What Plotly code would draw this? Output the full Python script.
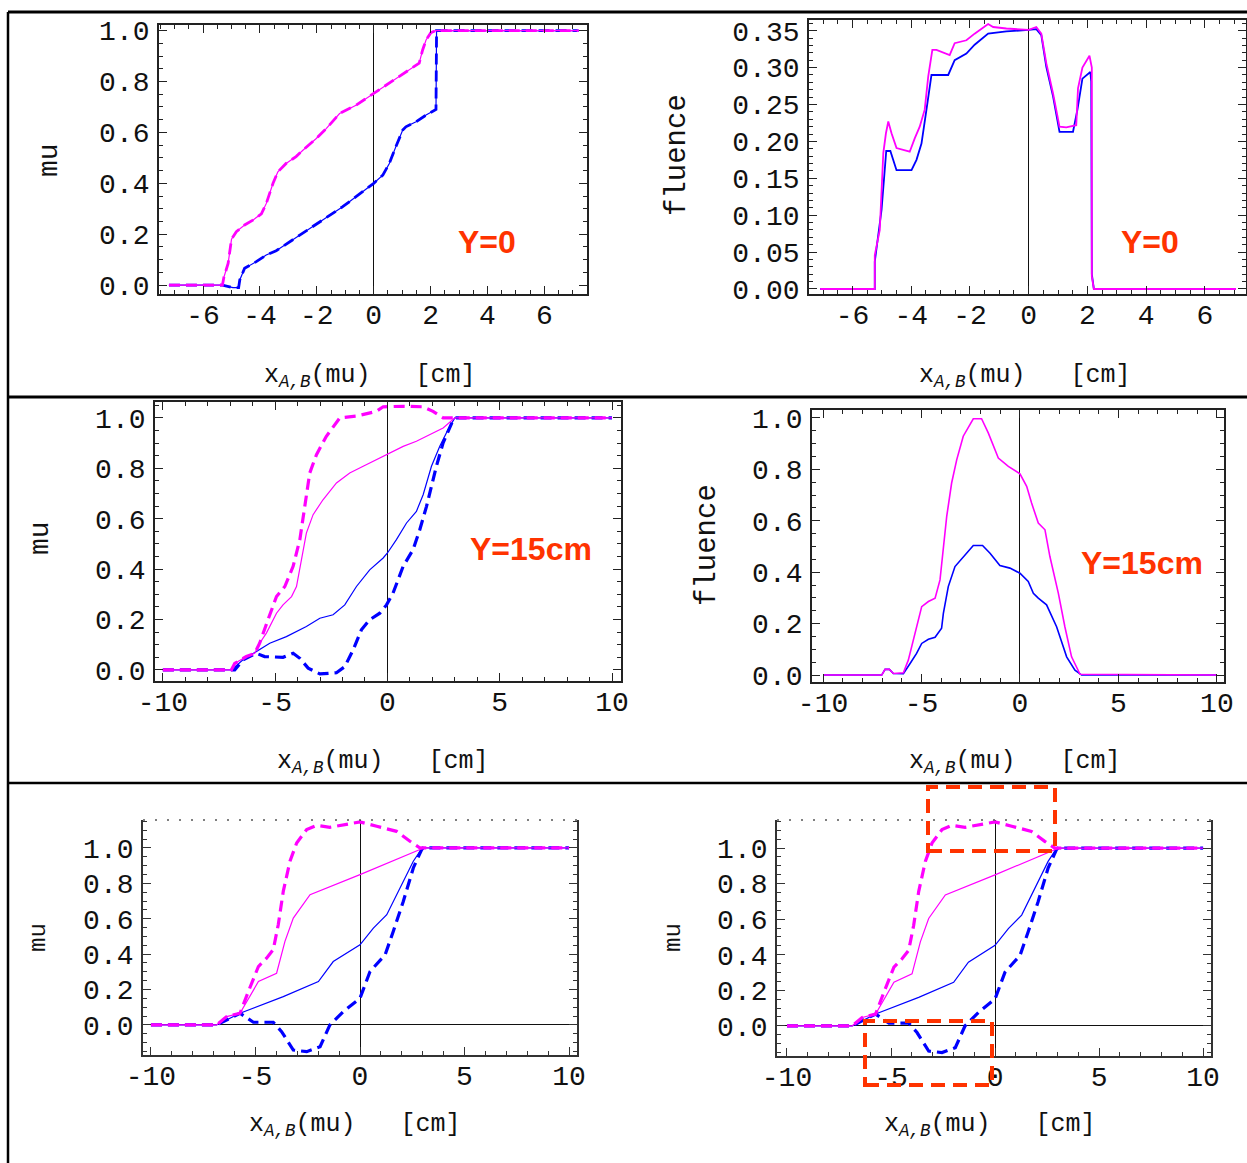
import plotly.graph_objects as go

W, H = 1247, 1163

# ---------------- data ----------------
# Row 1: Y=0, mu
mag_x0 = [-7.2, -5.32, -5.27, -5.12, -5.0, -4.83, -4.54, -4.25, -3.95, -3.78, -3.54, -3.37, -3.08, -2.73,
          -2.49, -2.02, -1.67, -1.2, -0.62, 0, 0.55, 1.13, 1.6, 1.72, 1.84, 2.01, 2.19, 7.2]
mag_y0 = [0, 0, 0.03, 0.085, 0.18, 0.21, 0.236, 0.255, 0.28, 0.32, 0.40, 0.445, 0.478, 0.505,
          0.53, 0.576, 0.615, 0.674, 0.707, 0.753, 0.793, 0.839, 0.872, 0.924, 0.963, 0.992, 1.0, 1.0]
blue_x0 = [-7.2, -5.32, -4.95, -4.75, -4.71, -4.54, -4.13, -3.78, -3.43, -2.96, -2.37, -1.79, -1.09,
           -0.39, 0, 0.32, 0.55, 0.78, 1.02, 1.13, 1.49, 1.84, 2.19, 2.21, 7.2]
blue_y0 = [0, 0, -0.01, -0.01, 0.02, 0.066, 0.092, 0.118, 0.135, 0.17, 0.216, 0.256, 0.308,
           0.367, 0.40, 0.432, 0.478, 0.544, 0.609, 0.622, 0.642, 0.668, 0.69, 1.0, 1.0]

# Row 1: Y=0, fluence
magf_x0 = [-7.1, -5.24, -5.24, -5.07, -4.95, -4.86, -4.78, -4.67, -4.50, -4.05, -3.88, -3.71, -3.54,
           -3.42, -3.28, -3.14, -2.69, -2.52, -2.12, -1.84, -1.38, -1.21, -0.76, 0, 0.26, 0.43, 0.60,
           0.83, 1.05, 1.28, 1.62, 1.68, 1.83, 2.07, 2.15, 2.15, 2.22, 7.06]
magf_y0 = [0, 0, 0.046, 0.080, 0.184, 0.211, 0.227, 0.211, 0.191, 0.186, 0.204, 0.22, 0.243,
           0.288, 0.324, 0.324, 0.317, 0.333, 0.337, 0.346, 0.359, 0.355, 0.353, 0.351, 0.355, 0.346, 0.306,
           0.265, 0.22, 0.219, 0.222, 0.272, 0.30, 0.316, 0.30, 0.017, 0, 0]
bluef_x0 = [-7.1, -5.24, -5.24, -5.01, -4.85, -4.71, -4.50, -3.99, -3.82, -3.65, -3.48, -3.31, -2.74,
            -2.52, -2.12, -1.84, -1.38, -0.76, 0, 0.26, 0.43, 0.60, 0.83, 1.05, 1.51, 1.66, 1.83,
            2.10, 2.13, 2.15, 2.22, 7.06]
bluef_y0 = [0, 0, 0.037, 0.107, 0.187, 0.187, 0.161, 0.161, 0.175, 0.197, 0.243, 0.29, 0.29,
            0.31, 0.319, 0.331, 0.346, 0.349, 0.351, 0.352, 0.344, 0.301, 0.261, 0.213, 0.213, 0.243, 0.285,
            0.294, 0.281, 0.02, 0, 0]

# Row 2: Y=15cm, mu
magd_x15 = [-10, -6.95, -6.80, -6.28, -5.91, -5.69, -5.32, -4.94, -4.57, -4.20, -3.90, -3.68, -3.46,
            -3.16, -2.72, -2.12, -1.38, -0.49, -0.19, 0.70, 1.59, 2.03, 2.48, 2.93, 10]
magd_y15 = [0, 0, 0.026, 0.053, 0.066, 0.106, 0.199, 0.291, 0.331, 0.411, 0.517, 0.649, 0.781,
            0.854, 0.927, 1.0, 1.007, 1.026, 1.044, 1.046, 1.044, 1.026, 1.0, 1.0, 1.0]
mags_x15 = [-10, -6.95, -6.80, -6.28, -5.91, -5.69, -5.39, -4.94, -4.65, -4.27, -4.05, -3.83, -3.61,
            -3.31, -2.87, -2.27, -1.68, -1.08, -0.49, 0, 0.70, 1.29, 2.03, 2.48, 3.0, 10]
mags_y15 = [0, 0, 0.026, 0.053, 0.066, 0.106, 0.146, 0.225, 0.258, 0.291, 0.331, 0.437, 0.543,
            0.616, 0.675, 0.742, 0.781, 0.808, 0.834, 0.854, 0.887, 0.907, 0.940, 0.960, 1.0, 1.0]
blues_x15 = [-10, -6.95, -6.43, -5.84, -5.24, -4.50, -3.61, -3.01, -2.42, -1.90, -1.38, -0.79, -0.19,
             0, 0.40, 0.85, 1.29, 1.59, 1.96, 2.33, 2.70, 3.0, 10]
blues_y15 = [0, 0, 0.04, 0.073, 0.106, 0.132, 0.172, 0.205, 0.219, 0.258, 0.331, 0.397, 0.444,
             0.464, 0.517, 0.583, 0.629, 0.695, 0.808, 0.887, 0.954, 1.0, 1.0]
blued_x15 = [-10, -6.95, -6.80, -6.43, -5.84, -5.47, -4.65, -4.20, -3.90, -3.53, -3.01, -2.27, -1.90,
             -1.53, -1.16, -0.79, -0.34, -0.04, 0.25, 0.70, 1.14, 1.44, 1.74, 2.18, 2.48, 2.93, 3.07, 10]
blued_y15 = [0, 0, 0, 0.04, 0.066, 0.053, 0.05, 0.066, 0.046, 0.007, -0.016, -0.011, 0.013,
             0.079, 0.159, 0.199, 0.225, 0.258, 0.305, 0.411, 0.477, 0.556, 0.649, 0.808, 0.901, 0.993, 1.0, 1.0]

# Row 2: Y=15cm, fluence
magf_x15 = [-10, -7.02, -6.85, -6.63, -6.43, -5.92, -5.67, -5.33, -4.99, -4.65, -4.31, -4.06, -3.89,
            -3.72, -3.47, -3.21, -2.88, -2.62, -2.37, -1.95, -1.61, -1.10, -0.59, 0, 0.34, 0.59, 0.93,
            1.27, 1.52, 1.95, 2.28, 2.62, 3.05, 10]
magf_y15 = [0, 0, 0.022, 0.022, 0.006, 0.009, 0.058, 0.162, 0.266, 0.286, 0.299, 0.37, 0.487,
            0.617, 0.747, 0.838, 0.929, 0.961, 0.997, 0.997, 0.942, 0.844, 0.812, 0.783, 0.734, 0.669, 0.591,
            0.565, 0.461, 0.318, 0.188, 0.071, 0.003, 0]
bluef_x15 = [-10, -7.02, -6.85, -6.63, -6.43, -5.92, -5.58, -5.25, -4.99, -4.65, -4.31, -3.98, -3.89,
             -3.64, -3.30, -2.88, -2.37, -1.90, -1.52, -1.02, -0.51, 0, 0.42, 0.68, 0.93, 1.35, 1.86,
             2.37, 2.79, 3.13, 10]
bluef_y15 = [0, 0, 0.022, 0.022, 0.006, 0.005, 0.045, 0.084, 0.123, 0.139, 0.147, 0.182, 0.24,
             0.344, 0.422, 0.461, 0.504, 0.504, 0.474, 0.426, 0.416, 0.396, 0.364, 0.318, 0.299, 0.273, 0.188,
             0.071, 0.019, 0, 0]

# Row 3: mu (same curves in both panels)
magd_b_x = [-10, -6.86, -6.38, -5.74, -5.34, -4.86, -4.47, -4.15, -3.91, -3.67, -3.35, -3.03, -2.55,
            -2.07, -1.44, -0.80, 0, 0.80, 1.75, 2.39, 2.87, 10]
magd_b_y = [0, 0, 0.047, 0.066, 0.189, 0.33, 0.377, 0.425, 0.566, 0.755, 0.925, 1.028, 1.104,
            1.128, 1.117, 1.132, 1.147, 1.123, 1.094, 1.038, 1.0, 1.0]
mags_b_x = [-10, -6.86, -6.38, -5.74, -4.86, -3.99, -3.59, -3.19, -2.39, 0, 2.87, 3.03, 10]
mags_b_y = [0, 0, 0.047, 0.066, 0.245, 0.292, 0.472, 0.604, 0.736, 0.849, 0.991, 1.0, 1.0]
blues_b_x = [-10, -6.86, -5.74, -3.67, -1.99, -1.28, 0, 0.64, 1.28, 1.91, 2.55, 2.95, 3.03, 10]
blues_b_y = [0, 0, 0.066, 0.16, 0.245, 0.358, 0.453, 0.547, 0.623, 0.774, 0.925, 0.996, 1.0, 1.0]
blued_b_x = [-10, -6.86, -5.74, -5.10, -4.15, -3.75, -3.19, -2.55, -1.91, -1.44, -0.80, 0, 0.48,
             1.20, 1.59, 2.07, 2.55, 2.95, 3.03, 10]
blued_b_y = [0, 0, 0.066, 0.015, 0.015, -0.038, -0.142, -0.151, -0.123, 0, 0.075, 0.151, 0.302,
             0.396, 0.528, 0.698, 0.887, 0.991, 1.0, 1.0]

# tick labels
x_ticks_top = [-6, -4, -2, 0, 2, 4, 6]
x_ticks_10 = [-10, -5, 0, 5, 10]
y_ticks_mu = [0.0, 0.2, 0.4, 0.6, 0.8, 1.0]
y_ticks_flu0 = [0.0, 0.05, 0.10, 0.15, 0.20, 0.25, 0.30, 0.35]

MAG = "#FF00FF"
BLU = "#0000FF"
RED = "#FF3300"
MONO = "Liberation Mono"


def px(x):
    return x / W


def py(y):
    return 1 - y / H


fig = go.Figure()


def add(i, x, y, color, dashed, width):
    sfx = "" if i == 1 else str(i)
    fig.add_trace(go.Scatter(
        x=x, y=y, mode="lines", xaxis="x" + sfx, yaxis="y" + sfx, showlegend=False,
        line=dict(color=color, width=width, dash=("11px,6px" if dashed else "solid")),
        hoverinfo="skip"))


# panel 1
add(1, blue_x0, blue_y0, BLU, False, 1.2)
add(1, blue_x0, blue_y0, BLU, True, 2.8)
add(1, mag_x0, mag_y0, MAG, False, 1.2)
add(1, mag_x0, mag_y0, MAG, True, 2.8)
# panel 2
add(2, bluef_x0, bluef_y0, BLU, False, 1.8)
add(2, magf_x0, magf_y0, MAG, False, 1.8)
# panel 3
add(3, blues_x15, blues_y15, BLU, False, 1.2)
add(3, blued_x15, blued_y15, BLU, True, 3.2)
add(3, mags_x15, mags_y15, MAG, False, 1.2)
add(3, magd_x15, magd_y15, MAG, True, 3.2)
# panel 4
add(4, bluef_x15, bluef_y15, BLU, False, 1.6)
add(4, magf_x15, magf_y15, MAG, False, 1.6)
# panels 5 & 6
for p in (5, 6):
    add(p, blues_b_x, blues_b_y, BLU, False, 1.2)
    add(p, blued_b_x, blued_b_y, BLU, True, 3.2)
    add(p, mags_b_x, mags_b_y, MAG, False, 1.2)
    add(p, magd_b_x, magd_b_y, MAG, True, 3.2)


def fmt(v, nd):
    return f"{v:.{nd}f}"


def xaxis(dom, rng, tv, minor, anchor, top_mirror=True, lc="#222"):
    return dict(domain=dom, range=rng, anchor=anchor, tickmode="array", tickvals=tv,
                ticktext=[str(v) for v in tv], ticks="inside", ticklen=8, tickwidth=1.3,
                tickcolor=lc, showline=True, linecolor=lc, linewidth=1.8,
                mirror=("ticks" if top_mirror else False), showgrid=False, automargin=False,
                zeroline=True, zerolinecolor="#111", zerolinewidth=1.4,
                tickfont=dict(family=MONO, size=28, color="#111"),
                minor=dict(dtick=minor, ticks="inside", ticklen=4, tickcolor=lc, showgrid=False),
                ticklabelstandoff=-6)


def yaxis(dom, rng, tv, nd, minor, anchor, zl=False, lc="#222"):
    return dict(domain=dom, range=rng, anchor=anchor, tickmode="array", tickvals=tv,
                ticktext=[fmt(v, nd) for v in tv], ticks="inside", ticklen=8, tickwidth=1.3,
                tickcolor=lc, showline=True, linecolor=lc, linewidth=1.8, mirror="ticks",
                showgrid=False, automargin=False, zeroline=zl, zerolinecolor="#111", zerolinewidth=1.4,
                tickfont=dict(family=MONO, size=28, color="#111"),
                minor=dict(dtick=minor, ticks="inside", ticklen=4, tickcolor=lc, showgrid=False),
                ticklabelstandoff=2)


layout = dict(
    width=W, height=H, autosize=False, margin=dict(l=0, r=0, t=0, b=0, pad=0, autoexpand=False),
    paper_bgcolor="white", plot_bgcolor="white", showlegend=False,
    xaxis=xaxis([px(159), px(587)], [-7.55, 7.5], x_ticks_top, 0.5, "y"),
    yaxis=yaxis([py(294), py(25)], [-0.035, 1.022], y_ticks_mu, 1, 0.05, "x"),
    xaxis2=xaxis([px(809), px(1246)], [-7.48, 7.4], x_ticks_top, 0.5, "y2"),
    yaxis2=yaxis([py(294), py(20)], [-0.0068, 0.3645], y_ticks_flu0, 2, 0.01, "x2"),
    xaxis3=xaxis([px(155), px(621)], [-10.35, 10.4], x_ticks_10, 1, "y3"),
    yaxis3=yaxis([py(681), py(402)], [-0.044, 1.063], y_ticks_mu, 1, 0.05, "x3"),
    xaxis4=xaxis([px(812), px(1224)], [-10.56, 10.36], x_ticks_10, 1, "y4"),
    yaxis4=yaxis([py(682), py(410)], [-0.027, 1.031], y_ticks_mu, 1, 0.05, "x4"),
    xaxis5=xaxis([px(143), px(577)], [-10.38, 10.38], x_ticks_10, 1, "y5", top_mirror=False, lc="#333"),
    yaxis5=yaxis([py(1055), py(820)], [-0.17, 1.158], y_ticks_mu, 1, 0.05, "x5", zl=True, lc="#333"),
    xaxis6=xaxis([px(777), px(1211)], [-10.48, 10.38], x_ticks_10, 1, "y6", top_mirror=False, lc="#333"),
    yaxis6=yaxis([py(1056), py(820)], [-0.17, 1.158], y_ticks_mu, 1, 0.05, "x6", zl=True, lc="#333"),
)
fig.update_layout(**layout)

shapes = []
# separators / outer border
for yy, w in ((12, 3), (397, 3), (783, 2.5)):
    shapes.append(dict(type="line", xref="paper", yref="paper", x0=px(8), x1=1, y0=py(yy), y1=py(yy),
                       line=dict(color="black", width=w)))
shapes.append(dict(type="line", xref="paper", yref="paper", x0=px(8), x1=px(8), y0=py(12), y1=0,
                   line=dict(color="black", width=2.5)))
# dotted top frame for bottom panels
for p in (5, 6):
    shapes.append(dict(type="line", xref=f"x{p} domain", yref=f"y{p} domain", x0=0, x1=1, y0=1, y1=1,
                       line=dict(color="#555", width=1.5, dash="2px,10px")))
# red dashed highlight boxes in panel 6
for (x0, x1, y0, y1) in ((928, 1055, 787, 851), (865, 992, 1021, 1085)):
    shapes.append(dict(type="rect", xref="paper", yref="paper", x0=px(x0), x1=px(x1), y0=py(y1), y1=py(y0),
                       line=dict(color=RED, width=4, dash="14px,8px"), fillcolor="rgba(0,0,0,0)",
                       layer="above"))
fig.update_layout(shapes=shapes)

ann = []
xtitle = "x<sub><i>A,B</i></sub>(mu)\u00a0\u00a0\u00a0[cm]"
for cx, cy in ((370, 376), (1025, 376), (383, 762), (1015, 762), (355, 1125), (990, 1125)):
    ann.append(dict(text=xtitle, x=px(cx), y=py(cy), xref="paper", yref="paper", showarrow=False,
                    xanchor="center", yanchor="middle", font=dict(family=MONO, size=25, color="#111")))
for txt, cx, cy, sz in (("mu", 50, 160, 28), ("fluence", 677, 155, 29), ("mu", 40, 538, 28),
                        ("fluence", 707, 545, 29), ("mu", 38, 938, 24), ("mu", 673, 938, 24)):
    ann.append(dict(text=txt, x=px(cx), y=py(cy), xref="paper", yref="paper", showarrow=False,
                    textangle=-90, xanchor="center", yanchor="middle",
                    font=dict(family=MONO, size=sz, color="#111")))
for txt, cx, cy in (("Y=0", 487, 242), ("Y=0", 1150, 242), ("Y=15cm", 531, 549), ("Y=15cm", 1142, 563)):
    ann.append(dict(text=f"<b>{txt}</b>", x=px(cx), y=py(cy), xref="paper", yref="paper", showarrow=False,
                    xanchor="center", yanchor="middle",
                    font=dict(family="Liberation Sans", size=32, color=RED)))
fig.update_layout(annotations=ann)

fig.write_html("out.html", config={"responsive": False, "displayModeBar": False},
               post_script="document.body.style.margin='0px';document.body.style.overflow='hidden';")
